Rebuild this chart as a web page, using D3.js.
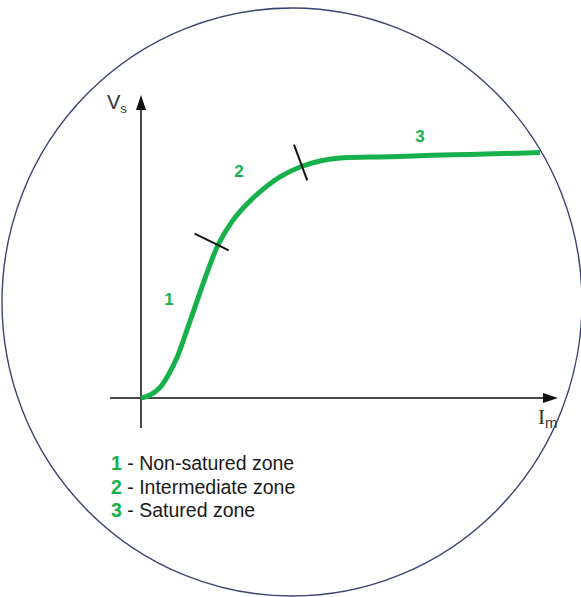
<!DOCTYPE html>
<html>
<head>
<meta charset="utf-8">
<script src="https://cdn.jsdelivr.net/npm/d3@7/dist/d3.min.js"></script>
<style>
  html, body { margin: 0; padding: 0; background: #fff; }
  svg { display: block; }
</style>
</head>
<body>
<svg id="chart" width="581" height="597"></svg>
<script>
// Magnetising current (arbitrary units) and output voltage (arbitrary units)
const currentIm = [0, 2.25, 4.75, 6.75, 9, 11.5, 14, 16.5, 19.25, 23, 26.5, 30.25, 34.75, 39.75, 44.75, 49.75, 57.25, 64.75, 73, 82.25, 91, 99.75];
const voltageVs = [0, 1, 3.5, 7.5, 13.5, 22.7, 32.3, 41.7, 51, 59.3, 64.7, 69.3, 73.7, 77, 79, 80, 80.3, 80.5, 80.9, 81.2, 81.5, 81.8];

// Zone boundaries along the curve (Im) and zone label positions
const boundaryIm = [19.25, 40.25];
const zoneNames = ["1", "2", "3"];
const zoneLabelIm = [7, 24.5, 69.75];
const zoneLabelVs = [31, 73.7, 85.3];
const legendTexts = ["Non-satured zone", "Intermediate zone", "Satured zone"];

const green = "#16b14b";
const svg = d3.select("#chart");

// Framing ellipse
svg.append("ellipse")
  .attr("cx", 292).attr("cy", 302)
  .attr("rx", 290).attr("ry", 294)
  .attr("fill", "none")
  .attr("stroke", "#3b4372")
  .attr("stroke-width", 1.4);

const x = d3.scaleLinear().domain([0, 100]).range([141, 541]);
const y = d3.scaleLinear().domain([0, 100]).range([398, 98]);

// Axes with arrow heads
const axisColor = "#4a4a4a";
svg.append("line")
  .attr("x1", x(0)).attr("x2", x(0))
  .attr("y1", y(-10)).attr("y2", y(98.5))
  .attr("stroke", axisColor).attr("stroke-width", 2);
svg.append("line")
  .attr("x1", x(-7.75)).attr("x2", x(101.5))
  .attr("y1", y(0)).attr("y2", y(0))
  .attr("stroke", axisColor).attr("stroke-width", 2);

const yTip = [x(0), y(101)];
svg.append("path")
  .attr("d", `M${yTip[0]},${yTip[1]} L${yTip[0] - 5},${yTip[1] + 15} L${yTip[0] + 5},${yTip[1] + 15} Z`)
  .attr("fill", "#111");
const xTip = [x(104.25), y(0)];
svg.append("path")
  .attr("d", `M${xTip[0]},${xTip[1]} L${xTip[0] - 15},${xTip[1] - 5} L${xTip[0] - 15},${xTip[1] + 5} Z`)
  .attr("fill", "#111");

// Axis titles
const vs = svg.append("text")
  .attr("x", x(-8.5)).attr("y", y(96.5))
  .attr("font-family", "Liberation Sans, Arial, sans-serif")
  .attr("fill", "#333")
  .attr("font-size", 20);
vs.append("tspan").text("V");
vs.append("tspan").attr("font-size", 13).attr("dy", 4).text("s");

const im = svg.append("text")
  .attr("x", x(99.25)).attr("y", y(-8.5))
  .attr("font-family", "Liberation Serif, Times New Roman, serif")
  .attr("fill", "#333")
  .attr("font-size", 21);
im.append("tspan").text("I");
im.append("tspan").attr("font-size", 15).attr("dy", 4).attr("font-family", "Liberation Sans, Arial, sans-serif").text("m");

// Magnetisation curve
const pts = currentIm.map((c, i) => [c, voltageVs[i]]);
const line = d3.line()
  .x(d => x(d[0]))
  .y(d => y(d[1]))
  .curve(d3.curveCatmullRom.alpha(0.5));
const curve = svg.append("path")
  .attr("d", line(pts))
  .attr("fill", "none")
  .attr("stroke", green)
  .attr("stroke-width", 5)
  .attr("stroke-linecap", "butt");

// Find the point on the curve at a given Im, and its normal direction
const node = curve.node();
const total = node.getTotalLength();
function pointAtIm(im) {
  const px = x(im);
  let lo = 0, hi = total;
  for (let k = 0; k < 40; k++) {
    const mid = (lo + hi) / 2;
    if (node.getPointAtLength(mid).x < px) lo = mid; else hi = mid;
  }
  const L = (lo + hi) / 2;
  const p = node.getPointAtLength(L);
  const a = node.getPointAtLength(Math.max(0, L - 3));
  const b = node.getPointAtLength(Math.min(total, L + 3));
  let tx = b.x - a.x, ty = b.y - a.y;
  const n = Math.hypot(tx, ty);
  tx /= n; ty /= n;
  // normal pointing up-left of the curve
  return { x: p.x, y: p.y, nx: ty, ny: -tx };
}

// Zone boundary marks
const reach = [[26, 12], [23, 15]];
boundaryIm.forEach((b, i) => {
  const p = pointAtIm(b);
  svg.append("line")
    .attr("x1", p.x + p.nx * reach[i][0]).attr("y1", p.y + p.ny * reach[i][0])
    .attr("x2", p.x - p.nx * reach[i][1]).attr("y2", p.y - p.ny * reach[i][1])
    .attr("stroke", "#111").attr("stroke-width", 2);
});

// Zone numbers
zoneNames.forEach((z, i) => {
  svg.append("text")
    .attr("x", x(zoneLabelIm[i])).attr("y", y(zoneLabelVs[i]))
    .attr("text-anchor", "middle")
    .attr("font-family", "Liberation Sans, Arial, sans-serif")
    .attr("font-weight", "bold")
    .attr("font-size", 17)
    .attr("fill", green)
    .text(z);
});

// Legend
legendTexts.forEach((t, i) => {
  const tx = svg.append("text")
    .attr("x", 111).attr("y", 470 + i * 23.5)
    .attr("font-family", "Liberation Sans, Arial, sans-serif")
    .attr("font-size", 19.5)
    .attr("fill", "#1a1a1a");
  tx.append("tspan").attr("fill", green).attr("font-weight", "bold").text(zoneNames[i]);
  tx.append("tspan").text(" - " + t);
});
</script>
</body>
</html>
